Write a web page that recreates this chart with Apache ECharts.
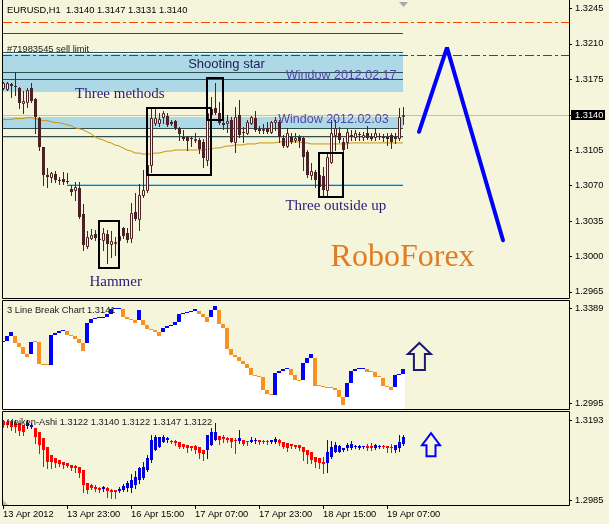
<!DOCTYPE html>
<html>
<head>
<meta charset="utf-8">
<script src="https://cdn.jsdelivr.net/npm/echarts@6.0.0/dist/echarts.min.js"></script>
<style>
html,body{margin:0;padding:0;background:#f5f5dc;overflow:hidden;}
#chart{width:609px;height:524px;}
</style>
</head>
<body>
<div id="chart"></div>
<script>
// ---------------- DATA ----------------
const symbolName = 'EURUSD,H1';
// main candles: [open, close, low, high], one per hour bar
const mainCandles = [
[1.3166,1.3171,1.3165,1.3172],[1.3165,1.3171,1.3164,1.3172],[1.3170,1.3168,1.3157,1.3171],[1.3168,1.3167,1.3159,1.3182],
[1.3166,1.3151,1.3146,1.3167],[1.3151,1.3153,1.3142,1.3163],[1.3152,1.3164,1.3147,1.3166],[1.3166,1.3153,1.3152,1.3171],
[1.3155,1.3138,1.3122,1.3156],[1.3137,1.3108,1.3105,1.3138],[1.3108,1.3080,1.3070,1.3108],[1.3080,1.3078,1.3069,1.3087],
[1.3078,1.3082,1.3073,1.3083],[1.3081,1.3075,1.3073,1.3084],[1.3075,1.3074,1.3071,1.3078],[1.3076,1.3073,1.3071,1.3083],
[1.3074,1.3073,1.3072,1.3082],[1.3067,1.3064,1.3061,1.3070],[1.3066,1.3069,1.3056,1.3073],[1.3068,1.3039,1.3038,1.3073],
[1.3042,1.3011,1.3006,1.3052],[1.3010,1.3019,1.3008,1.3025],[1.3018,1.3021,1.3017,1.3027],[1.3022,1.3018,1.3016,1.3026],
[1.3017,1.3016,1.3015,1.3020],[1.3016,1.3023,1.3006,1.3028],[1.3022,1.3012,1.2994,1.3026],[1.3012,1.3015,1.2999,1.3025],
[1.3013,1.3014,1.3001,1.3019],[1.3016,1.3020,1.3011,1.3023],[1.3028,1.3020,1.3018,1.3029],[1.3023,1.3016,1.3014,1.3028],
[1.3018,1.3043,1.3014,1.3053],[1.3044,1.3037,1.3036,1.3063],[1.3037,1.3061,1.3026,1.3071],[1.3061,1.3066,1.3059,1.3085],
[1.3066,1.3090,1.3064,1.3098],[1.3090,1.3137,1.3083,1.3146],[1.3132,1.3137,1.3130,1.3146],[1.3132,1.3136,1.3129,1.3142],
[1.3138,1.3142,1.3132,1.3143],[1.3139,1.3130,1.3129,1.3142],[1.3133,1.3131,1.3130,1.3135],[1.3134,1.3127,1.3126,1.3135],
[1.3127,1.3121,1.3115,1.3128],[1.3118,1.3116,1.3115,1.3125],[1.3118,1.3114,1.3105,1.3119],[1.3117,1.3116,1.3109,1.3119],
[1.3115,1.3116,1.3113,1.3122],[1.3115,1.3106,1.3102,1.3117],[1.3113,1.3097,1.3088,1.3116],[1.3095,1.3142,1.3090,1.3143],
[1.3145,1.3140,1.3138,1.3157],[1.3146,1.3142,1.3141,1.3171],[1.3142,1.3132,1.3131,1.3152],[1.3132,1.3130,1.3126,1.3135],
[1.3132,1.3134,1.3123,1.3140],[1.3135,1.3113,1.3113,1.3138],[1.3113,1.3138,1.3103,1.3147],[1.3140,1.3120,1.3118,1.3154],
[1.3123,1.3122,1.3113,1.3128],[1.3122,1.3133,1.3121,1.3135],[1.3132,1.3138,1.3131,1.3139],[1.3137,1.3125,1.3124,1.3143],
[1.3126,1.3124,1.3122,1.3129],[1.3125,1.3126,1.3122,1.3131],[1.3127,1.3123,1.3122,1.3133],[1.3123,1.3133,1.3122,1.3134],
[1.3133,1.3135,1.3125,1.3138],[1.3133,1.3118,1.3113,1.3135],[1.3117,1.3109,1.3108,1.3120],[1.3109,1.3122,1.3108,1.3127],
[1.3118,1.3113,1.3112,1.3122],[1.3115,1.3117,1.3113,1.3122],[1.3118,1.3114,1.3108,1.3120],[1.3117,1.3098,1.3085,1.3118],
[1.3103,1.3080,1.3078,1.3105],[1.3080,1.3084,1.3076,1.3092],[1.3083,1.3075,1.3069,1.3085],[1.3080,1.3069,1.3066,1.3083],
[1.3079,1.3066,1.3061,1.3088],[1.3066,1.3098,1.3061,1.3102],[1.3093,1.3122,1.3092,1.3135],[1.3120,1.3127,1.3105,1.3135],
[1.3122,1.3115,1.3113,1.3128],[1.3113,1.3105,1.3103,1.3117],[1.3113,1.3123,1.3107,1.3126],[1.3120,1.3118,1.3115,1.3125],
[1.3118,1.3122,1.3115,1.3125],[1.3121,1.3120,1.3115,1.3123],[1.3118,1.3120,1.3115,1.3123],[1.3122,1.3117,1.3116,1.3129],
[1.3118,1.3116,1.3115,1.3122],[1.3118,1.3122,1.3115,1.3127],[1.3119,1.3118,1.3116,1.3122],[1.3118,1.3117,1.3114,1.3121],
[1.3118,1.3116,1.3110,1.3122],[1.3120,1.3113,1.3107,1.3122],[1.3118,1.3116,1.3112,1.3122],[1.3117,1.3138,1.3115,1.3146],
[1.3140,1.3140,1.3131,1.3147]
];
// moving average, one value per bar
const maValues = [
1.3135,1.3135,1.3135,1.3136,1.3136,1.3136,1.3137,1.3137,1.3136,1.3135,
1.3134,1.3134,1.3133,1.3132,1.3132,1.3131,1.3130,1.3129,1.3127,1.3126,
1.3125,1.3123,1.3121,1.3118,1.3116,1.3115,1.3113,1.3112,1.3110,1.3109,
1.3107,1.3105,1.3104,1.3102,1.3102,1.3101,1.3101,1.3101,1.3102,1.3102,
1.3103,1.3104,1.3104,1.3105,1.3105,1.3105,1.3105,1.3105,1.3105,1.3105,
1.3105,1.3106,1.3106,1.3107,1.3107,1.3108,1.3109,1.3109,1.3110,1.3110,
1.3110,1.3111,1.3111,1.3111,1.3112,1.3112,1.3112,1.3112,1.3112,1.3113,
1.3113,1.3113,1.3113,1.3113,1.3113,1.3112,1.3112,1.3111,1.3111,1.3111,
1.3111,1.3111,1.3111,1.3111,1.3111,1.3111,1.3111,1.3112,1.3112,1.3112,
1.3112,1.3112,1.3112,1.3112,1.3112,1.3112,1.3112,1.3112,1.3112,1.3112,1.3112
];
// 3 line break bricks, one per bar
const lbLow = [
1.3249,1.3253,1.3272,1.3245,1.3228,1.3199,1.3187,1.3199,1.3248,1.3158,
1.3154,1.3151,1.3151,1.3277,1.3287,1.3294,1.3278,1.3273,1.3262,1.3245,
1.3212,1.3245,1.3326,1.3342,1.3346,1.3349,1.3353,1.3364,1.3384,1.3385,
1.3353,1.3342,1.3339,1.3328,1.3339,1.3318,1.3303,1.3297,1.3291,1.3274,
1.3291,1.3306,1.3313,1.3318,1.3330,1.3364,1.3368,1.3372,1.3378,1.3364,
1.3352,1.3332,1.3352,1.3381,1.3323,1.3306,1.3220,1.3193,1.3186,1.3169,
1.3156,1.3140,1.3111,1.3107,1.3104,1.3050,1.3031,1.3027,1.3029,1.3120,
1.3128,1.3135,1.3111,1.3092,1.3087,1.3090,1.3162,1.3180,1.3067,1.3065,
1.3062,1.3058,1.3057,1.3049,1.3021,1.2987,1.3021,1.3079,1.3128,1.3136,
1.3137,1.3125,1.3124,1.3104,1.3103,1.3067,1.3062,1.3050,1.3062,1.3111,
1.3116];
const lbHigh = [
1.3253,1.3272,1.3288,1.3272,1.3245,1.3228,1.3199,1.3248,1.3249,1.3248,
1.3158,1.3154,1.3277,1.3287,1.3294,1.3296,1.3294,1.3278,1.3273,1.3262,
1.3245,1.3326,1.3342,1.3346,1.3349,1.3353,1.3364,1.3384,1.3385,1.3386,
1.3385,1.3353,1.3342,1.3339,1.3381,1.3339,1.3318,1.3303,1.3297,1.3291,
1.3306,1.3313,1.3318,1.3330,1.3364,1.3368,1.3372,1.3378,1.3384,1.3378,
1.3364,1.3352,1.3381,1.3396,1.3381,1.3323,1.3306,1.3220,1.3193,1.3186,
1.3169,1.3156,1.3140,1.3111,1.3107,1.3104,1.3050,1.3031,1.3120,1.3128,
1.3135,1.3136,1.3135,1.3111,1.3092,1.3162,1.3180,1.3198,1.3180,1.3067,
1.3065,1.3062,1.3058,1.3057,1.3049,1.3021,1.3079,1.3128,1.3136,1.3137,
1.3141,1.3136,1.3125,1.3124,1.3104,1.3100,1.3067,1.3062,1.3111,1.3116,
1.3138];
const lbDir = ('uuuddddudd'+'dduuuudddd'+'duuuuuuuuu'+'dddduddddd'+'uuuuuuuuud'+
               'dduudddddd'+'dddddddduu'+'uuddduuudd'+'dddddduuuu'+'uddddddduu'+'u').split('');
// Heiken-Ashi: [open, close, low, high]
const haCandles = [
[1.3190,1.3180,1.3175,1.3193],[1.3188,1.3180,1.3175,1.3193],[1.3188,1.3175,1.3167,1.3193],[1.3185,1.3175,1.3162,1.3193],
[1.3185,1.3164,1.3154,1.3185],[1.3180,1.3162,1.3154,1.3180],[1.3177,1.3185,1.3172,1.3193],[1.3175,1.3180,1.3172,1.3185],
[1.3172,1.3149,1.3133,1.3172],[1.3162,1.3128,1.3107,1.3162],[1.3146,1.3115,1.3073,1.3146],[1.3123,1.3084,1.3068,1.3123],
[1.3102,1.3084,1.3068,1.3102],[1.3094,1.3081,1.3071,1.3094],[1.3089,1.3079,1.3073,1.3089],[1.3084,1.3076,1.3068,1.3084],
[1.3081,1.3073,1.3071,1.3081],[1.3076,1.3068,1.3063,1.3076],[1.3073,1.3068,1.3058,1.3076],[1.3071,1.3055,1.3045,1.3071],
[1.3063,1.3024,1.3006,1.3063],[1.3029,1.3011,1.3003,1.3029],[1.3024,1.3016,1.3014,1.3027],[1.3019,1.3014,1.3009,1.3024],
[1.3016,1.3011,1.3006,1.3018],[1.3014,1.3019,1.3009,1.3021],[1.3016,1.3008,1.2993,1.3018],[1.3011,1.3006,1.2990,1.3014],
[1.3011,1.3006,1.2990,1.3011],[1.3008,1.3014,1.3006,1.3019],[1.3011,1.3021,1.3009,1.3027],[1.3016,1.3029,1.3009,1.3034],
[1.3016,1.3037,1.3006,1.3053],[1.3024,1.3045,1.3016,1.3060],[1.3037,1.3068,1.3029,1.3071],[1.3042,1.3071,1.3040,1.3083],
[1.3063,1.3094,1.3060,1.3102],[1.3089,1.3141,1.3085,1.3154],[1.3115,1.3149,1.3115,1.3154],[1.3123,1.3149,1.3123,1.3149],
[1.3136,1.3149,1.3136,1.3154],[1.3141,1.3146,1.3136,1.3149],[1.3139,1.3136,1.3133,1.3141],[1.3139,1.3133,1.3128,1.3141],
[1.3136,1.3123,1.3120,1.3136],[1.3131,1.3123,1.3120,1.3131],[1.3128,1.3120,1.3110,1.3128],[1.3126,1.3120,1.3115,1.3126],
[1.3126,1.3115,1.3107,1.3128],[1.3123,1.3107,1.3094,1.3123],[1.3115,1.3104,1.3088,1.3116],[1.3115,1.3154,1.3094,1.3154],
[1.3128,1.3162,1.3128,1.3172],[1.3141,1.3162,1.3141,1.3185],[1.3152,1.3141,1.3131,1.3152],[1.3149,1.3144,1.3136,1.3154],
[1.3146,1.3141,1.3136,1.3149],[1.3146,1.3136,1.3123,1.3146],[1.3141,1.3138,1.3107,1.3146],[1.3139,1.3146,1.3133,1.3167],
[1.3141,1.3131,1.3128,1.3141],[1.3139,1.3136,1.3128,1.3139],[1.3136,1.3141,1.3136,1.3149],[1.3138,1.3141,1.3133,1.3146],
[1.3141,1.3136,1.3131,1.3141],[1.3138,1.3136,1.3133,1.3141],[1.3138,1.3135,1.3131,1.3141],[1.3136,1.3141,1.3133,1.3141],
[1.3136,1.3143,1.3133,1.3149],[1.3141,1.3133,1.3128,1.3143],[1.3136,1.3123,1.3120,1.3136],[1.3133,1.3120,1.3113,1.3133],
[1.3131,1.3125,1.3120,1.3131],[1.3128,1.3123,1.3120,1.3128],[1.3128,1.3120,1.3115,1.3128],[1.3123,1.3110,1.3089,1.3123],
[1.3115,1.3102,1.3081,1.3115],[1.3110,1.3089,1.3081,1.3110],[1.3097,1.3084,1.3071,1.3097],[1.3094,1.3081,1.3068,1.3094],
[1.3084,1.3079,1.3055,1.3097],[1.3081,1.3110,1.3058,1.3141],[1.3097,1.3123,1.3094,1.3138],[1.3110,1.3128,1.3110,1.3136],
[1.3110,1.3125,1.3110,1.3128],[1.3115,1.3120,1.3112,1.3120],[1.3120,1.3128,1.3115,1.3133],[1.3120,1.3131,1.3118,1.3139],
[1.3123,1.3126,1.3120,1.3128],[1.3120,1.3126,1.3118,1.3128],[1.3123,1.3126,1.3120,1.3126],[1.3126,1.3120,1.3115,1.3131],
[1.3125,1.3120,1.3115,1.3133],[1.3120,1.3128,1.3118,1.3131],[1.3123,1.3126,1.3120,1.3128],[1.3126,1.3123,1.3120,1.3128],
[1.3125,1.3120,1.3110,1.3126],[1.3123,1.3120,1.3110,1.3131],[1.3115,1.3128,1.3110,1.3128],[1.3120,1.3136,1.3113,1.3154],
[1.3131,1.3149,1.3128,1.3154]
];
const lbHeader = '3 Line Break Chart 1.3141';
const haHeader = 'Heiken-Ashi 1.3122 1.3140 1.3122 1.3147 1.3122';
// time axis
const timeBars = [0,16,32,48,64,80,96];
const timeLabels = ['13 Apr 2012','13 Apr 23:00','16 Apr 15:00','17 Apr 07:00','17 Apr 23:00','18 Apr 15:00','19 Apr 07:00'];
// price scale labels
const mainTicks = [1.2965,1.3000,1.3035,1.3070,1.3105,1.3140,1.3175,1.3210,1.3245];
const lbTicks = [1.2995,1.3389];
const haTicks = [1.2985,1.3193];
// chart objects (bar index / price)
const zoneBands = [[1.3200,1.3162],[1.3138,1.3127]];
const zoneLines = [1.3220,1.3202,1.3182,1.3175,1.3127,1.3119];
const zoneLightLines = [1.3118];
const zoneDashLine = [1.3201];
const supportLine = 1.3070, supportFromBar = 16;
const redLevel = 1.3231, orderLevel = 1.3199;
const zigzagBars = [104,111,125];
const zigzagPrices = [1.3123,1.3206,1.3016];
const patternBoxes = [[24,29,1.3035,1.2989],[36.1,52,1.3146,1.3080],[51.1,55,1.3176,1.3135],[79.05,85,1.3102,1.3059]];
const noteTexts = ['Shooting star','Three methods','Window 2012.02.17','Window 2012.02.03','Three outside up','Hammer','RoboForex','#71983545 sell limit'];
const noteBars = [46.3,18,70.75,68.8,70.6,21.6,81.9,1];
const notePrices = [1.3189,1.3160,1.3178,1.31355,1.3050,1.2975,1.2999,1.3204];
const lbArrow = [104.1,1.3188];
const haArrow = [107,1.3129];

// ---------------- STYLE ----------------
const SANS = '"Liberation Sans", Arial, sans-serif';
const SERIF = '"Liberation Serif", "Times New Roman", serif';
const BG = '#f5f5dc';
const CANDLE = '#4a2225';
const lastBar = mainCandles.length - 1;
const noteStyles = [
  {font:'13px '+SANS, color:'#1f1f5a'},
  {font:'15px '+SERIF, color:'#2a1a78'},
  {font:'12.5px '+SANS, color:'#5444a8'},
  {font:'12.5px '+SANS, color:'#5444a8'},
  {font:'15px '+SERIF, color:'#2a1a78'},
  {font:'15px '+SERIF, color:'#2a1a78'},
  {font:'32px '+SERIF, color:'#e27b22'},
  {font:'9.3px '+SANS, color:'#202020'}
];

function txtStyle(text, fill, font, align, valign) {
  return {text, fill, font, align, verticalAlign: valign, textAlign: align, textVerticalAlign: valign};
}

function hLevelSeries(values, stroke, dash, opts) {
  opts = opts || {};
  return {
    type:'custom', xAxisIndex:0, yAxisIndex:0, silent:true, z: opts.z || 2, clip:true,
    encode:{x:1, y:0},
    data: values.map(v => [v, opts.from || 0]),
    renderItem(params, api) {
      const cs = params.coordSys;
      const v = api.value(0);
      const p0 = api.coord([api.value(1), v]);
      const p1 = api.coord([lastBar, v]);
      const y = Math.round(p0[1]) + 0.5 + (opts.dy || 0);
      const x1 = opts.full ? cs.x : p0[0];
      const x2 = opts.full ? cs.x + cs.width : p1[0];
      return {type:'line', shape:{x1, y1:y, x2, y2:y}, style:{stroke, lineWidth:1, lineDash: dash || null}};
    }
  };
}

// price-scale tick marks, drawn at the right edge of each panel
function tickSeries(gridIdx, ticks) {
  return {
    type:'custom', xAxisIndex:gridIdx, yAxisIndex:gridIdx, silent:true, z:30, clip:false,
    encode:{y:0},
    data: ticks.map(v => [v]),
    renderItem(params, api) {
      const cs = params.coordSys;
      const y = Math.round(api.coord([0, api.value(0)])[1]) + 0.5;
      const x = cs.x + cs.width;
      return {type:'line', shape:{x1:x, y1:y, x2:x+3, y2:y}, style:{stroke:'#000', lineWidth:1}};
    }
  };
}

function arrowRender(dims, color) {
  return function(params, api) {
    const p = api.coord([api.value(0), api.value(1)]);
    const cx = p[0], cy = p[1];
    const d = dims;
    const pts = [[0,-d.tip],[d.hw,d.base],[d.sw,d.base],[d.sw,d.bot],[-d.sw,d.bot],[-d.sw,d.base],[-d.hw,d.base]]
      .map(q => [cx + q[0], cy + q[1]]);
    return {type:'polygon', shape:{points:pts}, style:{fill:'none', stroke:color, lineWidth:2, lineJoin:'miter'}};
  };
}

function yAx(grid, min, max, ticks) {
  return {
    type:'value', gridIndex:grid, position:'right', min, max,
    axisLine:{show:false}, splitLine:{show:false}, minorTick:{show:false},
    axisTick:{show:false},
    axisLabel:{show:true, customValues:ticks, formatter:v => Number(v).toFixed(4), margin:6, color:'#000', fontSize:9.3, fontFamily:SANS}
  };
}

const chart = echarts.init(document.getElementById('chart'), null, {renderer:'canvas'});
const last = mainCandles[lastBar];
const headerMain = symbolName + '  ' + [last[0], last[3], last[2], last[1]].map(v => v.toFixed(4)).join(' ');

const option = {
  animation:false,
  backgroundColor:BG,
  grid:[
    {left:3, top:0, width:566, height:298},
    {left:3, top:301, width:566, height:109},
    {left:3, top:412, width:566, height:93}
  ],
  xAxis:[
    {type:'value', gridIndex:0, min:0, max:141.5, show:false, axisTick:{show:false}, axisLabel:{show:false}, axisLine:{show:false}, splitLine:{show:false}},
    {type:'value', gridIndex:1, min:0, max:141.5, show:false, axisTick:{show:false}, axisLabel:{show:false}, axisLine:{show:false}, splitLine:{show:false}},
    {type:'value', gridIndex:2, min:0, max:141.5,
      axisLine:{show:false}, splitLine:{show:false},
      axisTick:{show:true, customValues:timeBars, length:4, lineStyle:{color:'#000'}},
      axisLabel:{show:true, customValues:timeBars, align:'left', margin:5, color:'#000', fontSize:9.3, fontFamily:SANS,
        formatter:v => timeLabels[timeBars.indexOf(Math.round(v))] || ''}}
  ],
  yAxis:[ yAx(0,1.2959,1.3253,mainTicks), yAx(1,1.2966,1.3418,lbTicks), yAx(2,1.2972,1.3214,haTicks) ],
  graphic:[
    {type:'polyline', z:100, silent:true, shape:{points:[[2.5,0],[2.5,298.5],[569.5,298.5],[569.5,0]]}, style:{stroke:'#000', lineWidth:1, fill:null}},
    {type:'rect', z:100, silent:true, shape:{x:2.5, y:300.5, width:567, height:109}, style:{stroke:'#000', lineWidth:1, fill:null}},
    {type:'rect', z:100, silent:true, shape:{x:2.5, y:411.5, width:567, height:94}, style:{stroke:'#000', lineWidth:1, fill:null}},
    {type:'polygon', z:100, silent:true, shape:{points:[[399,2],[408,2],[403.5,7]]}, style:{fill:'#a8a8a8'}},
    {type:'polygon', z:100, silent:true, shape:{points:[[3,500],[3,505],[8,505]]}, style:{fill:'#b8b8b8'}},
    {type:'text', z:100, silent:true, x:7, y:10.4, style:txtStyle(headerMain, '#000', '9.3px '+SANS, 'left', 'middle')},
    {type:'text', z:100, silent:true, x:7, y:310, style:txtStyle(lbHeader, '#1a1a1a', '9.3px '+SANS, 'left', 'middle')},
    {type:'text', z:100, silent:true, x:7, y:422, style:txtStyle(haHeader, '#1a1a1a', '9.3px '+SANS, 'left', 'middle')}
  ],
  series:[
    // zone bands
    {type:'custom', xAxisIndex:0, yAxisIndex:0, silent:true, z:1, clip:true,
      encode:{y:[0,1]},
      data: zoneBands.map(b => [b[0], b[1]]),
      renderItem(params, api) {
        const a = api.coord([0, api.value(0)]);
        const b = api.coord([lastBar, api.value(1)]);
        const y1 = Math.round(a[1]), y2 = Math.round(b[1]);
        return {type:'rect', shape:{x:a[0], y:y1, width:b[0]-a[0], height:y2-y1}, style:{fill:'#add8e6'}};
      }},
    hLevelSeries(zoneLines, '#2f4f4f'),
    hLevelSeries(zoneLightLines, '#9fd3e3'),
    hLevelSeries(zoneDashLine, '#ffffff', [3,2]),
    hLevelSeries([supportLine], '#9fd3e3', null, {from:supportFromBar, dy:-1}),
    hLevelSeries([supportLine], '#2f6f7c', null, {from:supportFromBar}),
    hLevelSeries([redLevel], '#ff4500', [9,3,3,3], {full:true}),
    hLevelSeries([orderLevel], '#127012', [9,3,3,3], {full:true}),
    hLevelSeries([last[1]], '#c0c0c0', null, {full:true}),
    // moving average
    {type:'line', xAxisIndex:0, yAxisIndex:0, silent:true, z:3, symbol:'none',
      data: maValues.map((v,i) => [i, v]), lineStyle:{color:'#c8940f', width:1}},
    // candles
    {type:'custom', xAxisIndex:0, yAxisIndex:0, silent:true, z:4, clip:true,
      encode:{x:0, y:[1,2,3,4]},
      data: mainCandles.map((c,i) => [i, c[0], c[1], c[2], c[3]]),
      renderItem(params, api) {
        const i = api.value(0), o = api.value(1), c = api.value(2), l = api.value(3), h = api.value(4);
        const po = api.coord([i,o]), pc = api.coord([i,c]), pl = api.coord([i,l]), ph = api.coord([i,h]);
        const cx = Math.round(po[0]);
        const top = Math.round(Math.min(po[1], pc[1])), bot = Math.round(Math.max(po[1], pc[1]));
        const ch = [{type:'line', shape:{x1:cx+0.5, y1:Math.round(ph[1]), x2:cx+0.5, y2:Math.round(pl[1])+1}, style:{stroke:CANDLE, lineWidth:1}}];
        if (c >= o) {
          ch.push({type:'rect', shape:{x:cx-0.5, y:top+0.5, width:2, height:Math.max(bot-top,1)}, style:{fill:BG, stroke:CANDLE, lineWidth:1}});
        } else {
          ch.push({type:'rect', shape:{x:cx-1, y:top, width:3, height:Math.max(bot-top,1)}, style:{fill:CANDLE}});
        }
        return {type:'group', children:ch};
      }},
    // pattern boxes
    {type:'custom', xAxisIndex:0, yAxisIndex:0, silent:true, z:5, clip:true,
      encode:{x:[0,1], y:[2,3]},
      data: patternBoxes.map(b => [b[0], b[1], b[2], b[3]]),
      renderItem(params, api) {
        const a = api.coord([api.value(0), api.value(2)]);
        const b = api.coord([api.value(1), api.value(3)]);
        const x1 = Math.round(a[0]), y1 = Math.round(a[1]), x2 = Math.round(b[0]), y2 = Math.round(b[1]);
        return {type:'rect', shape:{x:x1, y:y1, width:x2-x1, height:y2-y1}, style:{fill:'none', stroke:'#000', lineWidth:2}};
      }},
    // zigzag projection
    {type:'line', xAxisIndex:0, yAxisIndex:0, silent:true, z:6, symbol:'none',
      data: zigzagBars.map((b,i) => [b, zigzagPrices[i]]), lineStyle:{color:'#0000ff', width:4, cap:'round'}},
    // notes
    {type:'custom', xAxisIndex:0, yAxisIndex:0, silent:true, z:7, clip:false,
      encode:{x:0, y:1},
      data: noteTexts.map((t,i) => [noteBars[i], notePrices[i], i]),
      renderItem(params, api) {
        const p = api.coord([api.value(0), api.value(1)]);
        const k = api.value(2);
        const s = noteStyles[k];
        return {type:'text', x:p[0], y:p[1], style:txtStyle(noteTexts[k], s.color, s.font, 'left', 'middle')};
      }},
    // current price tag
    {type:'custom', xAxisIndex:0, yAxisIndex:0, silent:true, z:40, clip:false,
      encode:{y:0},
      data: [[last[1]]],
      renderItem(params, api) {
        const cs = params.coordSys;
        const v = api.value(0);
        const y = Math.round(api.coord([0, v])[1]);
        const x = cs.x + cs.width + 2;
        return {type:'group', children:[
          {type:'rect', shape:{x:x, y:y-5, width:34, height:10}, style:{fill:'#000'}},
          {type:'text', x:x+4, y:y, style:txtStyle(v.toFixed(4), '#fff', '9.3px '+SANS, 'left', 'middle')}
        ]};
      }},
    tickSeries(0, mainTicks),
    // 3 line break
    {type:'custom', xAxisIndex:1, yAxisIndex:1, silent:true, z:3, clip:true,
      encode:{x:0, y:[1,2]},
      data: lbLow.map((lo,i) => [i, lo, lbHigh[i], lbDir[i] === 'u' ? 1 : 0]),
      renderItem(params, api) {
        const cs = params.coordSys;
        const i = api.value(0);
        const pl = api.coord([i, api.value(1)]), ph = api.coord([i, api.value(2)]);
        const x = Math.round(pl[0]) - 2;
        const yl = Math.round(pl[1]), yh = Math.round(ph[1]);
        return {type:'group', children:[
          {type:'rect', shape:{x, y:yl, width:4, height:cs.y+cs.height-yl}, style:{fill:'#ffffff'}},
          {type:'rect', shape:{x, y:Math.min(yh, yl-1), width:4, height:Math.max(yl-yh,1)}, style:{fill: api.value(3) ? '#0000ff' : '#f7921e'}}
        ]};
      }},
    {type:'custom', xAxisIndex:1, yAxisIndex:1, silent:true, z:5, clip:false,
      encode:{x:0, y:1},
      data:[lbArrow], renderItem: arrowRender({tip:13.5, hw:11.5, base:-2.5, sw:5.5, bot:13.5}, '#1a1a6e')},
    tickSeries(1, lbTicks),
    // Heiken-Ashi
    {type:'custom', xAxisIndex:2, yAxisIndex:2, silent:true, z:3, clip:true,
      encode:{x:0, y:[1,2,3,4]},
      data: haCandles.map((c,i) => [i, c[0], c[1], c[2], c[3]]),
      renderItem(params, api) {
        const i = api.value(0), o = api.value(1), c = api.value(2), l = api.value(3), h = api.value(4);
        const po = api.coord([i,o]), pc = api.coord([i,c]), pl = api.coord([i,l]), ph = api.coord([i,h]);
        const cx = Math.round(po[0]);
        const col = c >= o ? '#0000dd' : '#ff0000';
        const top = Math.round(Math.min(po[1], pc[1])), bot = Math.round(Math.max(po[1], pc[1]));
        return {type:'group', children:[
          {type:'line', shape:{x1:cx+0.5, y1:Math.round(ph[1]), x2:cx+0.5, y2:Math.round(pl[1])+1}, style:{stroke:col, lineWidth:1}},
          {type:'rect', shape:{x:cx-1, y:top, width:3, height:Math.max(bot-top,1)}, style:{fill:col}}
        ]};
      }},
    {type:'custom', xAxisIndex:2, yAxisIndex:2, silent:true, z:5, clip:false,
      encode:{x:0, y:1},
      data:[haArrow], renderItem: arrowRender({tip:11.5, hw:9, base:0.5, sw:4.5, bot:11.5}, '#0000ff')},
    tickSeries(2, haTicks)
  ]
};
chart.setOption(option);
</script>
</body>
</html>
